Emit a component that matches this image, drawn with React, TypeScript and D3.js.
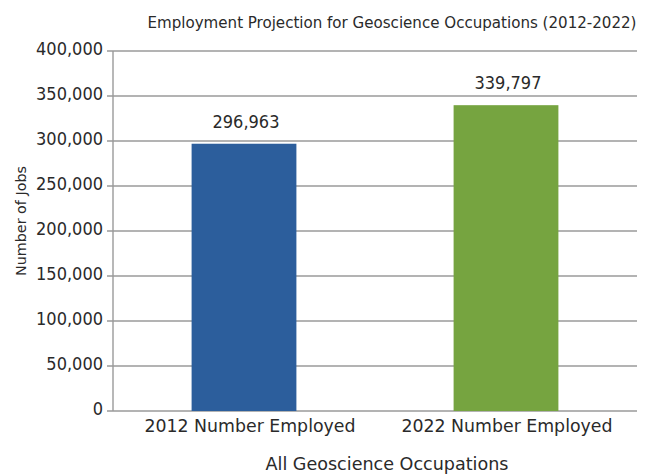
import React, { useEffect, useRef } from "react";
import * as d3 from "d3";

const categories = ["2012 Number Employed", "2022 Number Employed"];
const jobs = [296963, 339797];
const barColors = ["#2c5e9c", "#76a440"];
const yTicks = [0, 50000, 100000, 150000, 200000, 250000, 300000, 350000, 400000];

const title = "Employment Projection for Geoscience Occupations (2012-2022)";
const xTitle = "All Geoscience Occupations";
const yTitle = "Number of Jobs";

const FONT = "'DejaVu Sans Condensed', 'Open Sans', sans-serif";

const App: React.FC = () => {
	const ref = useRef<SVGSVGElement | null>(null);

	useEffect(() => {
		if (!ref.current) return;
		const svg = d3.select(ref.current);
		const margin = { top: 51, right: 10, bottom: 64, left: 113 };
		const width = 647;
		const height = 475;

		const x = d3
			.scaleBand()
			.domain(categories)
			.range([margin.left, width - margin.right])
			.paddingInner(0.6)
			.paddingOuter(0.3);

		const y = d3
			.scaleLinear()
			.domain([0, 400000])
			.range([height - margin.bottom, margin.top]);

		const fmt = d3.format(",");

		// gridlines
		svg.append("g")
			.selectAll("line")
			.data(yTicks)
			.enter()
			.append("line")
			.attr("x1", margin.left - 6)
			.attr("x2", width - margin.right)
			.attr("y1", (d) => y(d))
			.attr("y2", (d) => y(d))
			.attr("stroke", "#9a9a9a")
			.attr("stroke-width", 1.4);

		// y axis line
		svg.append("line")
			.attr("x1", margin.left)
			.attr("x2", margin.left)
			.attr("y1", y(400000))
			.attr("y2", y(0))
			.attr("stroke", "#9a9a9a")
			.attr("stroke-width", 1.4);

		// tick labels
		svg.append("g")
			.selectAll("text")
			.data(yTicks)
			.enter()
			.append("text")
			.attr("x", margin.left - 10)
			.attr("y", (d) => y(d) - 2)
			.attr("dy", "0.35em")
			.attr("text-anchor", "end")
			.attr("font-family", FONT)
			.attr("font-size", 18)
			.attr("fill", "#2a2a2a")
			.text((d) => fmt(d));

		// bars
		svg.append("g")
			.selectAll("rect")
			.data(jobs)
			.enter()
			.append("rect")
			.attr("x", (_, i) => x(categories[i]) || 0)
			.attr("y", (d) => y(d))
			.attr("width", x.bandwidth())
			.attr("height", (d) => y(0) - y(d))
			.attr("fill", (_, i) => barColors[i]);

		// value labels
		svg.append("g")
			.selectAll("text")
			.data(jobs)
			.enter()
			.append("text")
			.attr("x", (_, i) => (x(categories[i]) || 0) + x.bandwidth() / 2 + 2)
			.attr("y", (d) => y(d) - 16)
			.attr("text-anchor", "middle")
			.attr("font-family", FONT)
			.attr("font-size", 18)
			.attr("fill", "#2a2a2a")
			.text((d) => fmt(d));

		// category labels
		svg.append("g")
			.selectAll("text")
			.data(categories)
			.enter()
			.append("text")
			.attr("x", (d, i) => (x(d) || 0) + x.bandwidth() / 2 + (i === 0 ? 6 : 1))
			.attr("y", y(0) + 21)
			.attr("text-anchor", "middle")
			.attr("font-family", FONT)
			.attr("font-size", 18)
			.attr("fill", "#2a2a2a")
			.attr("textLength", 211)
			.attr("lengthAdjust", "spacingAndGlyphs")
			.text((d) => d);

		svg.append("text")
			.attr("x", 387)
			.attr("y", 470)
			.attr("text-anchor", "middle")
			.attr("font-family", FONT)
			.attr("font-size", 18)
			.attr("fill", "#2a2a2a")
			.attr("textLength", 243)
			.attr("lengthAdjust", "spacingAndGlyphs")
			.text(xTitle);

		svg.append("text")
			.attr("transform", "rotate(-90)")
			.attr("x", -221)
			.attr("y", 26)
			.attr("text-anchor", "middle")
			.attr("font-family", FONT)
			.attr("font-size", 14)
			.attr("fill", "#2a2a2a")
			.attr("textLength", 110)
			.attr("lengthAdjust", "spacingAndGlyphs")
			.text(yTitle);

		svg.append("text")
			.attr("x", 392)
			.attr("y", 28)
			.attr("text-anchor", "middle")
			.attr("font-family", FONT)
			.attr("font-size", 16)
			.attr("fill", "#2a2a2a")
			.attr("textLength", 489)
			.attr("lengthAdjust", "spacingAndGlyphs")
			.text(title);

		return () => {
			svg.selectAll("*").remove();
		};
	}, []);

	return (
		<svg
			ref={ref}
			width={647}
			height={475}
			style={{ position: "absolute", left: 0, top: 0, background: "#fff" }}
		/>
	);
};

export default App;
